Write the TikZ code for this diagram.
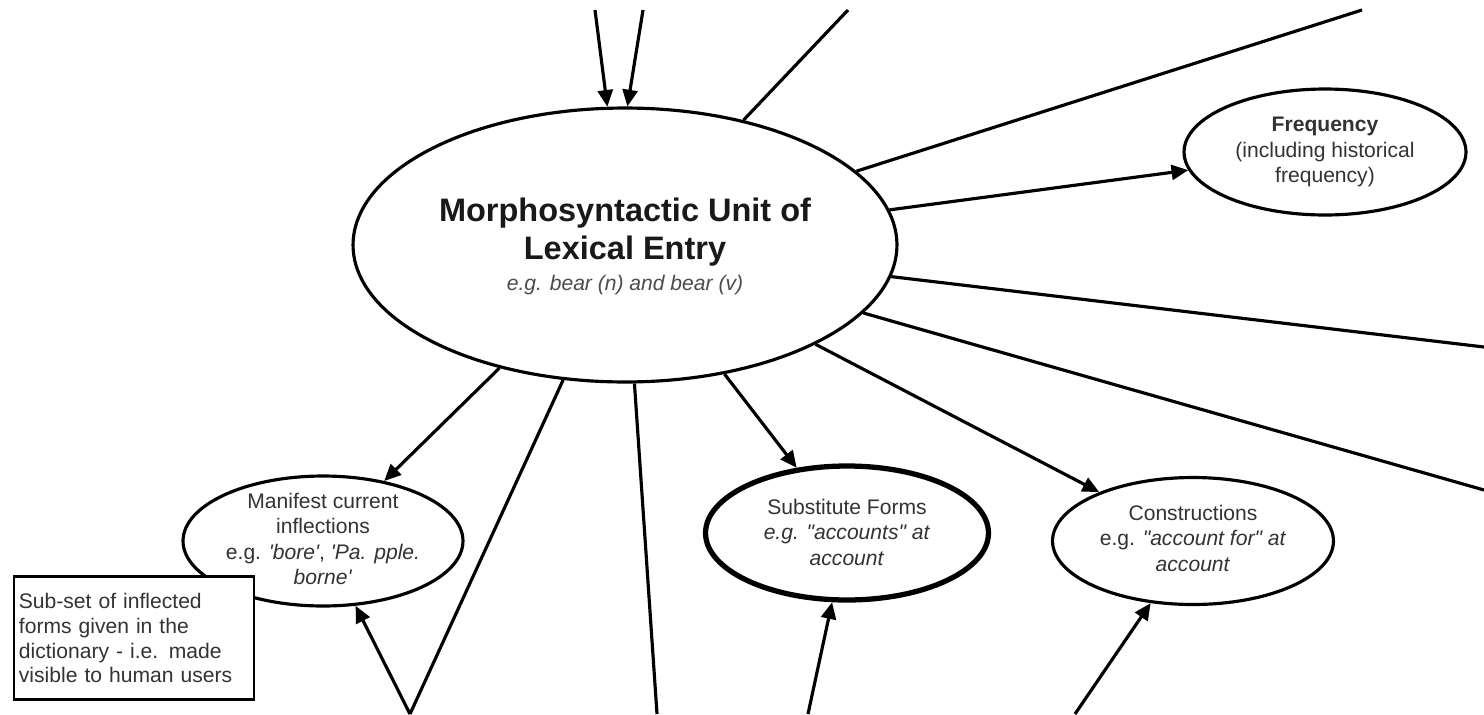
\documentclass[tikz,border=0pt]{standalone}
\usepackage{fontspec}
\setmainfont{Liberation Sans}
\usetikzlibrary{shapes.geometric,arrows.meta}
\begin{document}
\begin{tikzpicture}[x=0.02cm,y=-0.02cm,
  ln/.style={line width=1.8pt,black},
  arr/.style={ln,-{Triangle[length=9.5pt,width=8.5pt]}},
  ell/.style={ellipse,draw,line width=1.8pt,fill=white,inner sep=0pt},
  txt/.style={align=center,font=\fontsize{12}{14.5}\selectfont,text=black!80,inner sep=0pt},
  note/.style={draw,line width=1.2pt,fill=white,align=left,text width=131pt,inner xsep=3pt,
    minimum height=70pt,font=\fontsize{12}{14.2}\selectfont,text=black!80},
]
\useasboundingbox (0,0) rectangle (1484,714);
% free ends
\coordinate (t1) at (595,10);
\coordinate (t2) at (643,10);
\coordinate (t3) at (848,10);
\coordinate (t4) at (1362,10);
\coordinate (r1) at (1484,347);
\coordinate (r2) at (1484,490);
\coordinate (b1) at (410,714);
\coordinate (b2) at (657,714);
\coordinate (b3) at (808,714);
\coordinate (b4) at (1075,714);

% ellipses
\node[ell,minimum width=10.88cm,minimum height=5.48cm] (main) at (625,245) {};
\node[ell,minimum width=5.64cm,minimum height=2.52cm] (freq) at (1325,152) {};
\node[ell,minimum width=5.6cm,minimum height=2.6cm] (man) at (323,541) {};
\node[ell,line width=3pt,minimum width=5.66cm,minimum height=2.68cm] (sub) at (847,533) {};
\node[ell,minimum width=5.62cm,minimum height=2.54cm] (cons) at (1193,541) {};

% texts
\node[txt,text=black!90,font=\fontsize{18.5}{22}\selectfont\bfseries] (mainT) at (625,232)
  {Morphosyntactic Unit of\\Lexical Entry};
\node[txt,text=black!70,font=\fontsize{12}{14}\selectfont\itshape] (mainS) at (625,285)
  {e.g. bear (n) and bear (v)};
\node[txt] (freqT) at (1325,152) {\textbf{Frequency}\\(including historical\\frequency)};
\node[txt] (manT) at (323,539) {Manifest current\\inflections\\e.g. \textit{\textquotesingle bore\textquotesingle}, \textit{\textquotesingle Pa. pple.}\\\textit{borne\textquotesingle}};
\node[txt] (subT) at (847,532) {Substitute Forms\\\textit{e.g. \textquotedbl accounts\textquotedbl\ at}\\\textit{account}};
\node[txt] (consT) at (1193,538) {Constructions\\e.g. \textit{\textquotedbl account for\textquotedbl\ at}\\\textit{account}};

% connectors
\draw[arr] (t1) -- (main);
\draw[arr] (t2) -- (main.89);
\draw[ln] (main) -- (t3);
\draw[ln] (main) -- (t4);
\draw[arr] (main) -- (freq);
\draw[ln] (main) -- (r1);
\draw[ln] (main) -- (r2);
\draw[arr] (main) -- (cons);
\draw[arr] (main) -- (sub);
\draw[arr] (main) -- (man);
\draw[ln] (main) -- (b1);
\draw[arr] (b1) -- (man);
\draw[ln] (main) -- (b2);
\draw[arr] (b3) -- (sub);
\draw[arr] (b4) -- (cons);

% note box
\node[note] (nb) at (134,638) {Sub-set of inflected\\forms given in the\\dictionary - i.e. made\\visible to human users};
\end{tikzpicture}
\end{document}
